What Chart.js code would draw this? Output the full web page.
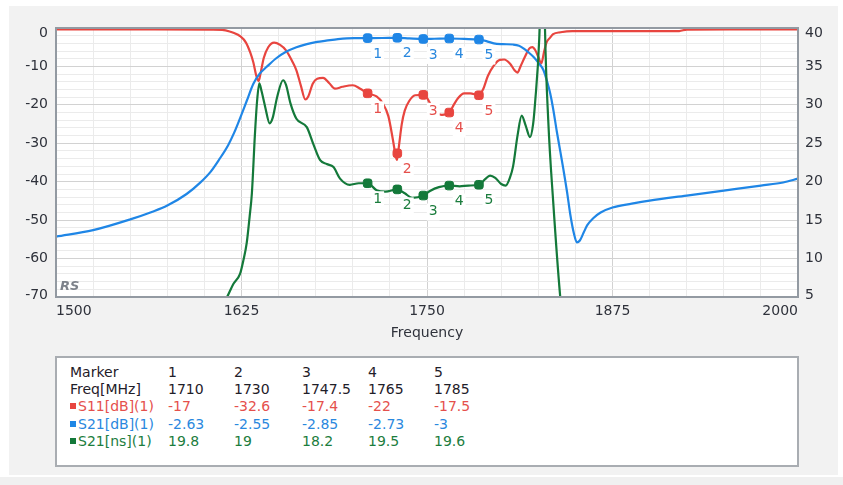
<!DOCTYPE html>
<html>
<head>
<meta charset="utf-8">
<script src="https://cdn.jsdelivr.net/npm/chart.js@4.4.0/dist/chart.umd.min.js"></script>
<style>
  html, body { margin: 0; padding: 0; background: #fff; width: 843px; height: 485px; overflow: hidden; }
  body { position: relative; font-family: "DejaVu Sans", Verdana, sans-serif; }
  #panel { position: absolute; left: 9px; top: 6px; width: 829px; height: 469px; background: #f2f2f2; }
  #strip { position: absolute; left: 0; top: 477px; width: 843px; height: 8px; background: #f0f0f0; }
  #plot { position: absolute; left: 0; top: 0; width: 843px; height: 350px; }
  #markers { position: absolute; left: 55px; top: 356px; width: 740px; height: 107px; background: #fff; border: 2px solid #a9adb2; font-size: 14px; }
  #markers .cell { position: absolute; white-space: nowrap; line-height: 17px; }
  #markers .name { overflow: hidden; width: 90px; }
  #markers .sq { display: inline-block; width: 6px; height: 6px; margin-right: 2px; vertical-align: 2px; }
</style>
</head>
<body>
<div id="panel"></div>
<div id="strip"></div>
<div id="plot"><canvas id="chart" width="843" height="350"></canvas></div>
<div id="markers"></div>
<script>
// S11 [dB] trace
const s11Freq = [1500, 1560, 1605, 1612, 1617, 1620, 1624, 1628, 1631, 1633, 1635, 1636.5, 1638, 1640, 1643, 1647,
  1651, 1655, 1659, 1662, 1665, 1668, 1670, 1673, 1676, 1680, 1684, 1688, 1693, 1700, 1705, 1710, 1716, 1720,
  1724, 1727, 1729, 1729.8, 1731, 1733, 1735, 1738, 1742, 1747.5, 1750, 1753, 1756, 1760, 1765, 1768, 1771,
  1775, 1779, 1785, 1788, 1791, 1795, 1799, 1802, 1806, 1809, 1811, 1813, 1816, 1819, 1821, 1823, 1825, 1827,
  1829, 1830.5, 1833, 1835, 1840, 1848, 1860, 1920, 1925, 1960, 2000];
const s11Val = [-0.35, -0.35, -0.4, -0.5, -0.9, -1.3, -2.1, -3.8, -6.5, -9.0, -12.5, -13.8, -11.5, -7.8, -5.0, -3.8,
  -4.4, -5.8, -8.5, -11, -15, -18.6, -17.8, -14.5, -13.2, -13.0, -14.3, -15.8, -15.3, -14.9, -15.8, -17, -17.8, -19.5,
  -23, -29, -33.5, -34.3, -31, -25, -21.5, -19, -17.5, -17.4, -18.2, -20.3, -22, -22.6, -22, -20, -18.2,
  -17.0, -17.0, -17.5, -15.8, -12.5, -9.8, -8.3, -8.2, -9.3, -11, -11.6, -10, -7.5, -5.3, -5.0, -5.8, -7.5, -9.2,
  -6.0, -3.8, -2.5, -1.6, -1.1, -0.8, -0.8, -0.8, -0.4, -0.35, -0.35];

// S21 [dB] trace
const s21Freq = [1500, 1525, 1550, 1565, 1575, 1588, 1597, 1604, 1610, 1616, 1620, 1624, 1628.5, 1633, 1637, 1642,
  1648, 1655, 1662, 1669, 1676, 1682, 1690, 1696, 1703, 1710, 1720, 1730, 1738, 1747.5, 1755, 1765, 1775, 1785,
  1790, 1795, 1801, 1808, 1812, 1815, 1818, 1822, 1825, 1828.5, 1831, 1833, 1835, 1837.5, 1840, 1842, 1844.5,
  1846.5, 1849, 1851, 1853, 1855.5, 1858, 1862, 1867, 1875, 1888, 1900, 1925, 1950, 1975, 1990, 2000];
const s21Val = [-54.3, -52.6, -49.8, -47.8, -46.2, -43.2, -40.3, -37.5, -34.2, -30.5, -27.3, -23.5, -19, -14.5, -12, -10.1,
  -8, -6.2, -5.0, -4.2, -3.6, -3.3, -2.9, -2.7, -2.65, -2.63, -2.6, -2.55, -2.7, -2.85, -2.8, -2.73, -2.85, -3.0,
  -3.4, -4.0, -4.2, -4.3, -4.6, -5.3, -6.2, -7.6, -9, -11, -14, -17, -21, -27, -32.5, -37, -43,
  -48.4, -53.5, -55.8, -55.3, -53.3, -51.3, -49.5, -48.0, -46.7, -45.7, -44.9, -43.6, -42.3, -41, -40.2, -39.2];

// S21 group delay [ns] trace
const gdFreq = [1608, 1612, 1615, 1619.5, 1624, 1626.3, 1628.5, 1630.5, 1632, 1634, 1635.5, 1637, 1638.5, 1641, 1644,
  1646, 1649, 1653, 1655, 1658, 1662, 1669, 1673.4, 1678, 1682.4, 1687, 1691.4, 1698, 1704, 1710, 1716, 1722,
  1730, 1735, 1740, 1747.5, 1752, 1758, 1765, 1772, 1778, 1785, 1789, 1792.5, 1796, 1800, 1803, 1806, 1808,
  1811, 1813.8, 1816.5, 1819.4, 1821.5, 1822.8, 1825.7, 1827, 1828, 1829.5, 1831.7, 1835, 1839.6, 1842];
const gdVal = [2, 4.0, 4.9, 6.7, 8.0, 9.8, 12, 15.5, 18.5, 26, 30.5, 32.8, 31.8, 29.7, 27.6,
  28.3, 31, 33.2, 32.6, 30.2, 28.2, 27.1, 24.9, 22.8, 22.3, 21.9, 20.4, 19.6, 19.8, 19.8, 18.9, 18.7,
  19.0, 18.5, 17.9, 18.2, 18.8, 19.3, 19.5, 19.4, 19.5, 19.6, 20.3, 20.8, 20.5, 19.7, 19.5, 20.6, 22,
  26, 28.6, 27.3, 25.8, 27.5, 30.2, 38.9, 48, 60, 40, 28, 17.5, 5.4, 1];

// markers
const markerNames = ['1', '2', '3', '4', '5'];
const markerFreq = [1710, 1730, 1747.5, 1765, 1785];
const markerS11 = [-17, -32.6, -17.4, -22, -17.5];
const markerS21 = [-2.63, -2.55, -2.85, -2.73, -3];
const markerGD = [19.8, 19, 18.2, 19.5, 19.6];

// axis labels (top to bottom for the value axes)
const freqLabels = [1500, 1625, 1750, 1875, 2000];
const dbLabels = [0, -10, -20, -30, -40, -50, -60, -70];
const nsLabels = [40, 35, 30, 25, 20, 15, 10, 5];

const RED = '#e8453f';
const BLUE = '#1f86e6';
const GREEN = '#14793a';
const TXT_RED = '#e5504c';
const TXT_BLUE = '#2a88de';
const TXT_GREEN = '#1c7d3e';
const GRID_MAJOR = '#d2d2d2';
const GRID_MINOR = '#ebebeb';
const TICK = '#2f323b';
const FONT = '"DejaVu Sans", Verdana, sans-serif';

function pairs(xs, ys) {
  return xs.map((x, i) => ({ x: x, y: ys[i] }));
}

function trace(label, xs, ys, color, axis, order) {
  return {
    label: label, data: pairs(xs, ys), yAxisID: axis, order: order,
    borderColor: color, borderWidth: 2.2, pointRadius: 0,
    cubicInterpolationMode: 'monotone', clip: 0
  };
}

function markerSet(label, ys, color, textColor, axis) {
  return {
    label: label, data: pairs(markerFreq, ys), yAxisID: axis, order: 0,
    showLine: false, pointStyle: 'rectRounded', pointRadius: 5, pointHoverRadius: 5,
    backgroundColor: color, borderColor: color, borderWidth: 1,
    markerText: markerNames, textColor: textColor
  };
}

// end labels of the value axes sit a little inside the plot, like the original:
// a blank second line plus a small line height nudges them inward
function edgeLabel(labels) {
  return v => {
    if (!labels.includes(v)) return '';
    if (v === labels[0]) return ['', String(v)];
    if (v === labels[labels.length - 1]) return [String(v), ''];
    return String(v);
  };
}
function edgeFont(labels) {
  return c => {
    const v = c.tick ? c.tick.value : null;
    let lh = 1.2;
    if (v === labels[0]) lh = 0.75;
    if (v === labels[labels.length - 1]) lh = 0.3;
    return { family: FONT, size: 14, lineHeight: lh };
  };
}

// white plot background + frame + RS logo
const plotFrame = {
  id: 'plotFrame',
  beforeDraw(chart) {
    const { ctx, chartArea: a } = chart;
    ctx.save();
    ctx.fillStyle = '#fff';
    ctx.fillRect(a.left, a.top, a.right - a.left, a.bottom - a.top);
    ctx.restore();
  },
  afterDraw(chart) {
    const { ctx, chartArea: a } = chart;
    ctx.save();
    ctx.strokeStyle = '#939aa2';
    ctx.lineWidth = 2;
    ctx.strokeRect(a.left, a.top, a.right - a.left, a.bottom - a.top);
    ctx.font = 'italic bold 13px ' + FONT;
    ctx.fillStyle = '#7d828a';
    ctx.textBaseline = 'middle';
    ctx.fillText('RS', a.left + 4, a.bottom - 10);
    ctx.restore();
  }
};

// marker numbers below each marker point
const markerLabels = {
  id: 'markerLabels',
  afterDatasetsDraw(chart) {
    const ctx = chart.ctx;
    ctx.save();
    ctx.font = '14px ' + FONT;
    ctx.textAlign = 'center';
    ctx.textBaseline = 'middle';
    chart.data.datasets.forEach((ds, i) => {
      if (!ds.markerText) return;
      const meta = chart.getDatasetMeta(i);
      meta.data.forEach((pt, j) => {
        const tx = pt.x + 10, ty = pt.y + 16;
        const w = ctx.measureText(ds.markerText[j]).width + 4;
        ctx.fillStyle = '#fff';
        ctx.fillRect(tx - w / 2, ty - 8, w, 17);
        ctx.fillStyle = ds.textColor;
        ctx.fillText(ds.markerText[j], tx, ty);
      });
    });
    ctx.restore();
  }
};

new Chart(document.getElementById('chart'), {
  type: 'line',
  data: {
    datasets: [
      markerSet('S11 markers', markerS11, RED, TXT_RED, 'y'),
      markerSet('S21 markers', markerS21, BLUE, TXT_BLUE, 'y'),
      markerSet('GD markers', markerGD, GREEN, TXT_GREEN, 'y2'),
      trace('S21[ns](1)', gdFreq, gdVal, GREEN, 'y2', 1),
      trace('S21[dB](1)', s21Freq, s21Val, BLUE, 'y', 2),
      trace('S11[dB](1)', s11Freq, s11Val, RED, 'y', 3)
    ]
  },
  options: {
    responsive: false,
    animation: false,
    events: [],
    layout: { padding: { left: 0, right: 0, top: 28, bottom: 0 } },
    plugins: { legend: { display: false }, tooltip: { enabled: false } },
    scales: {
      x: {
        type: 'linear', min: 1500, max: 2000,
        afterFit(s) { s.height = 53; },
        ticks: {
          stepSize: 25, autoSkip: false, maxRotation: 0, align: 'inner', padding: 6,
          color: TICK, font: { family: FONT, size: 14 },
          callback: v => freqLabels.includes(v) ? String(v) : ''
        },
        grid: { drawTicks: false, color: c => (c.tick && freqLabels.includes(c.tick.value)) ? GRID_MAJOR : GRID_MINOR },
        border: { display: false },
        title: { display: true, text: 'Frequency', color: TICK, font: { family: FONT, size: 14 }, padding: { top: 0, bottom: 8 } }
      },
      y: {
        type: 'linear', position: 'left', min: -70, max: 0,
        afterFit(s) { s.width = 56; },
        ticks: {
          stepSize: 2, maxTicksLimit: 100, autoSkip: false, padding: 8,
          color: TICK, font: edgeFont(dbLabels),
          callback: edgeLabel(dbLabels)
        },
        grid: { drawTicks: false, color: c => (c.tick && dbLabels.includes(c.tick.value)) ? GRID_MAJOR : GRID_MINOR },
        border: { display: false }
      },
      y2: {
        type: 'linear', position: 'right', min: 5, max: 40,
        afterFit(s) { s.width = 45; },
        ticks: {
          stepSize: 5, autoSkip: false, padding: 7,
          color: TICK, font: edgeFont(nsLabels),
          callback: edgeLabel(nsLabels)
        },
        grid: { display: false, drawTicks: false },
        border: { display: false }
      }
    }
  },
  plugins: [plotFrame, markerLabels]
});

// marker table
const box = document.getElementById('markers');
const colX = [13, 111, 177, 245, 311, 377];
const rows = [
  { name: 'Marker', vals: markerNames, color: '#1f2029' },
  { name: 'Freq[MHz]', vals: markerFreq, color: '#1f2029' },
  { name: 'S11[dB](1)', vals: markerS11, color: TXT_RED, sq: RED },
  { name: 'S21[dB](1)', vals: markerS21, color: TXT_BLUE, sq: BLUE },
  { name: 'S21[ns](1)', vals: markerGD, color: TXT_GREEN, sq: GREEN }
];
rows.forEach((r, i) => {
  const top = 6 + i * 17.2;
  const name = document.createElement('div');
  name.className = 'cell name';
  name.style.left = colX[0] + 'px';
  name.style.top = top + 'px';
  name.style.color = r.color;
  if (r.sq) {
    const sq = document.createElement('span');
    sq.className = 'sq';
    sq.style.background = r.sq;
    name.appendChild(sq);
  }
  name.appendChild(document.createTextNode(r.name));
  box.appendChild(name);
  r.vals.forEach((v, j) => {
    const c = document.createElement('div');
    c.className = 'cell';
    c.style.left = colX[j + 1] + 'px';
    c.style.top = top + 'px';
    c.style.color = r.color;
    c.textContent = String(v);
    box.appendChild(c);
  });
});
</script>
</body>
</html>
